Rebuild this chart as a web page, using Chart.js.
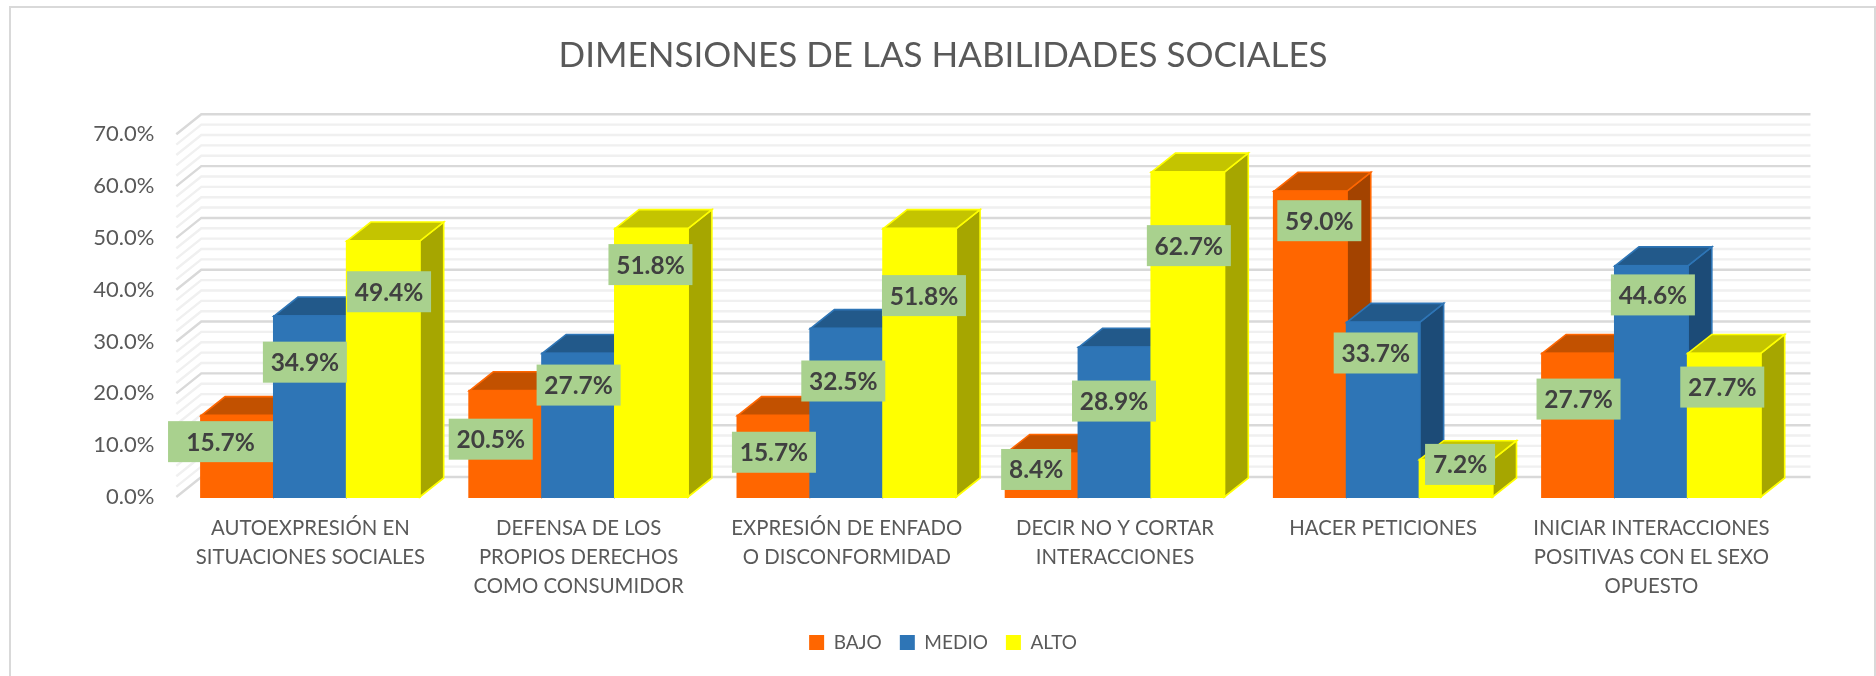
<!DOCTYPE html>
<html><head><meta charset="utf-8">
<style>html,body{margin:0;padding:0;background:#fff;overflow:hidden}canvas{display:block}</style>
<script src="https://cdn.jsdelivr.net/npm/chart.js@4"></script></head>
<body><canvas id="c" width="1876" height="676"></canvas>
<script>
const titleText = 'DIMENSIONES DE LAS HABILIDADES SOCIALES';
const categories = [
  ['AUTOEXPRESIÓN EN','SITUACIONES SOCIALES'],
  ['DEFENSA DE LOS','PROPIOS DERECHOS','COMO CONSUMIDOR'],
  ['EXPRESIÓN DE ENFADO','O DISCONFORMIDAD'],
  ['DECIR NO Y CORTAR','INTERACCIONES'],
  ['HACER PETICIONES'],
  ['INICIAR INTERACCIONES','POSITIVAS CON EL SEXO','OPUESTO']
];
const bajo  = [15.7,20.5,15.7,8.4,59.0,27.7];
const medio = [34.9,27.7,32.5,28.9,33.7,44.6];
const alto  = [49.4,51.8,51.8,62.7,7.2,27.7];
const yTicksMax = 70, yTickStep = 10, yMinorStep = 2;

// manual label placement from the reference: offset from bar centre / bar top
const labelDx = [[-17,-15,0,-6,9,0],[-5.5,0,-3.5,-1,-7.5,1.5],[5.8,-1,4.3,1,4,-2]];
const labelDy = [[26,48.4,36.6,16,29.4,45.6],[46,31.6,52.4,53.8,30.6,29],[50.7,36,67,73.5,4.7,33.6]];
const labelW  = [[105,84,84,70,84,84],[84,84,84,84,84,84],[84,84,84,84,70,84]];

const FONT = 'Lato, Carlito, Calibri, sans-serif';
const TXT = '#595959';
const faces = [
  {front:'#FF6600',top:'#C25100',side:'#A34300'},
  {front:'#2E75B6',top:'#22598A',side:'#1C4B77'},
  {front:'#FFFF00',top:'#C4C400',side:'#A6A600'}
];
const D = {dx:24,dy:19,wx:25,wy:20};

const decor = {
  id:'decor',
  afterLayout(chart){
    // y tick labels overhang the fixed axis box; keep them from being clipped
    chart.scales.y.left -= 30;
  },
  beforeDraw(chart){
    const c = chart.ctx;
    c.save();c.strokeStyle='#D9D9D9';c.lineWidth=2;
    c.beginPath();c.moveTo(10,676);c.lineTo(10,7);c.lineTo(1875,7);c.lineTo(1875,676);c.stroke();
    c.restore();
  },
  beforeDatasetsDraw(chart){
    const c = chart.ctx, y = chart.scales.y, a = chart.chartArea;
    c.save();
    for(let v=0;v<=yTicksMax;v+=yMinorStep){
      const major = v%yTickStep===0, p = y.getPixelForValue(v);
      c.strokeStyle = major?'#D9D9D9':'#F0F0F0';
      c.lineWidth = 2.4;
      c.beginPath();
      c.moveTo(a.left,p);
      c.lineTo(a.left+D.wx,p-D.wy);
      c.lineTo(a.right+D.wx,p-D.wy);
      c.stroke();
    }
    c.restore();
  },
  afterDatasetsDraw(chart){
    const c = chart.ctx;
    c.save();
    c.lineJoin='miter';
    chart.data.datasets.forEach((ds,i)=>{
      const f = faces[i];
      chart.getDatasetMeta(i).data.forEach(bar=>{
        const {x,y,width,base} = bar.getProps(['x','y','width','base'],true);
        const l=x-width/2, r=x+width/2;
        c.lineWidth=1.6; c.strokeStyle=f.front;
        c.fillStyle=f.side;
        c.beginPath();c.moveTo(r,base);c.lineTo(r+D.dx,base-D.dy);c.lineTo(r+D.dx,y-D.dy);c.lineTo(r,y);c.closePath();c.fill();c.stroke();
        c.fillStyle=f.top;
        c.beginPath();c.moveTo(l,y);c.lineTo(l+D.dx,y-D.dy);c.lineTo(r+D.dx,y-D.dy);c.lineTo(r,y);c.closePath();c.fill();c.stroke();
        c.lineWidth=2;c.strokeRect(l,y,width,base-y);
        bar.draw(c);
      });
    });
    // data labels
    c.textAlign='center';c.textBaseline='middle';
    c.font='bold 24.5px '+FONT;
    chart.data.datasets.forEach((ds,i)=>{
      chart.getDatasetMeta(i).data.forEach((bar,j)=>{
        const {x,y} = bar.getProps(['x','y'],true);
        const cx=x+labelDx[i][j], cy=y+labelDy[i][j], w=labelW[i][j], h=41;
        c.fillStyle='#A9D18E';
        c.fillRect(cx-w/2,cy-h/2,w,h);
        c.fillStyle='#404040';
        c.fillText(ds.data[j].toFixed(1)+'%',cx,cy+1);
      });
    });
    c.restore();
  }
};

new Chart(document.getElementById('c'),{
  type:'bar',
  data:{labels:categories,datasets:[
    {label:'BAJO',data:bajo,backgroundColor:faces[0].front},
    {label:'MEDIO',data:medio,backgroundColor:faces[1].front},
    {label:'ALTO',data:alto,backgroundColor:faces[2].front}
  ]},
  plugins:[decor],
  options:{
    responsive:false,animation:false,
    events:[],
    datasets:{bar:{categoryPercentage:0.815,barPercentage:1,borderWidth:0}},
    layout:{padding:{left:100.7,right:90.5,top:0,bottom:14}},
    plugins:{
      tooltip:{enabled:false},
      title:{display:true,text:titleText,color:TXT,
        font:{family:FONT,size:35,weight:'normal',lineHeight:1.3},
        padding:{top:33,bottom:55.8}},
      legend:{position:'bottom',
        labels:{boxWidth:15,boxHeight:15,padding:18,color:TXT,font:{family:FONT,size:19,lineHeight:1}}}
    },
    scales:{
      x:{
        grid:{display:false},border:{display:false},
        afterFit(s){s.height=118;},
        ticks:{autoSkip:false,maxRotation:0,minRotation:0,padding:8.5,color:TXT,
          font:{family:FONT,size:20.35,lineHeight:1.425}}
      },
      y:{
        min:0,max:yTicksMax,
        grid:{display:false},border:{display:false},
        afterFit(s){s.width=75.6;},
        ticks:{stepSize:yTickStep,padding:14,color:TXT,font:{family:FONT,size:22},
          callback:v=>v.toFixed(1)+'%'}
      }
    }
  }
});
</script></body></html>
